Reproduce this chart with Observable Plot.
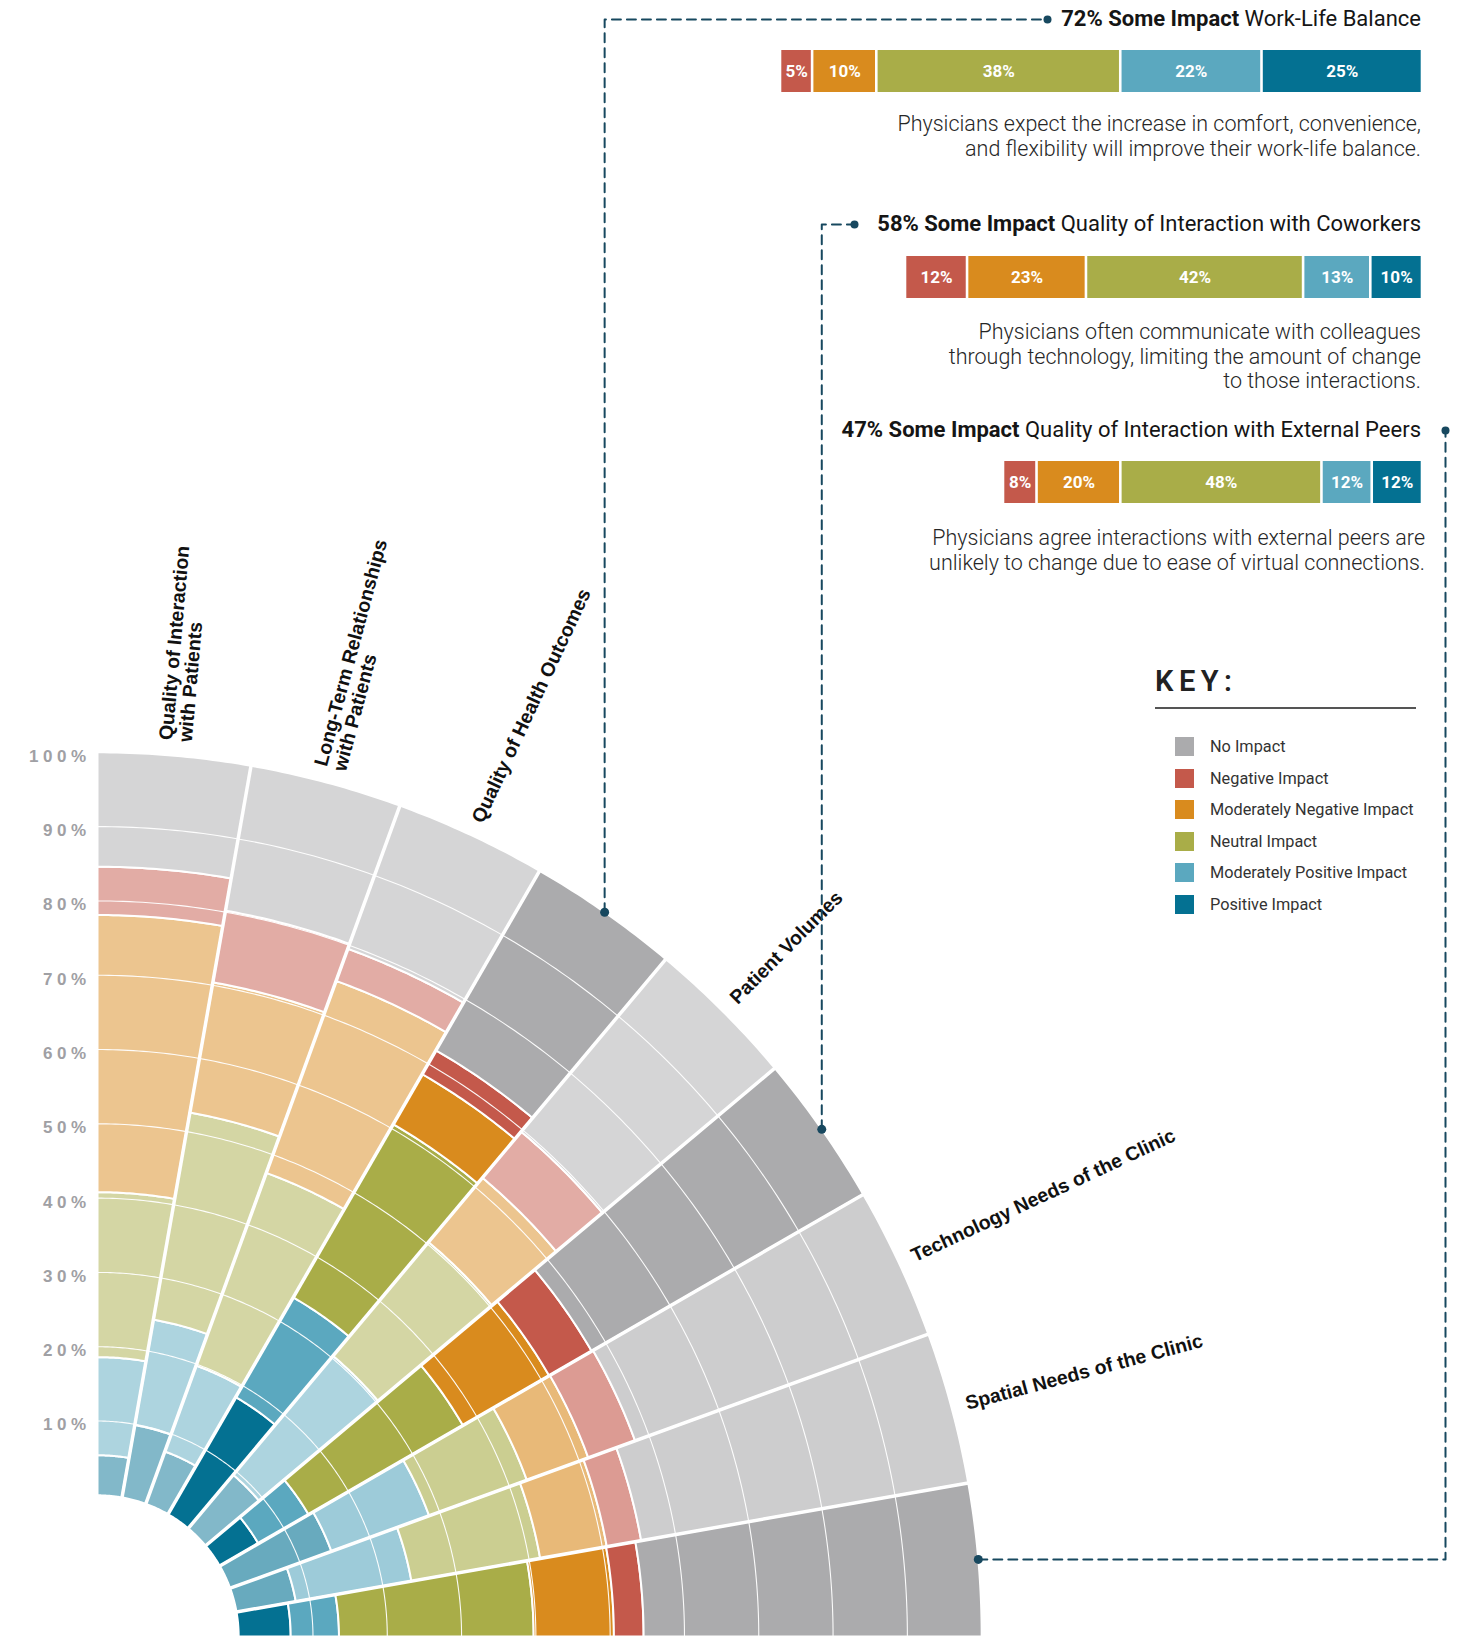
<!DOCTYPE html>
<html lang="en">
<head>
<meta charset="utf-8">
<title>Expected impact of virtual care on physicians</title>
<script src="https://cdn.jsdelivr.net/npm/d3@7"></script>
<script src="https://cdn.jsdelivr.net/npm/@observablehq/plot@0.6"></script>
<style>
  html, body { margin: 0; padding: 0; background: #fff; }
  #page { position: relative; width: 1460px; height: 1636px; overflow: hidden; font-family: Roboto, "Open Sans", sans-serif; }
  #main { position: absolute; left: 0; top: 0; }
  .c-title, .c-bar, .c-desc { position: absolute; text-align: right; }
  .c-title { font-size: 22px; line-height: 26px; color: #151515; white-space: nowrap; }
  .c-title b { font-weight: 700; }
  .c-desc { font-size: 21.5px; line-height: 24.5px; color: #262626; font-weight: 300; white-space: pre-line; }
  .c-bar svg { display: block; }
  #key { position: absolute; left: 1155px; top: 664px; width: 262px; }
  #key .k-title { font-family: Roboto, sans-serif; font-size: 29px; font-weight: 600; letter-spacing: 5.5px; color: #222; line-height: 34px; }
  #key .k-rule { margin-top: 9px; height: 2px; background: #555; width: 261px; }
  #key .k-item { position: absolute; left: 20px; height: 20px; font-size: 16.3px; color: #333; line-height: 20px; white-space: nowrap; }
  #key .k-item span.sw { position: absolute; left: 0; top: 0; width: 19px; height: 19px; }
  #key .k-item span.lb { position: absolute; left: 35px; top: 0; }
</style>
</head>
<body>
<div id="page">
  <div id="main"></div>
  <div id="callouts"></div>
  <div id="key"></div>
</div>
<script>
// ---------------- DATA ----------------
const categories = [
  "Quality of Interaction with Patients",
  "Long-Term Relationships with Patients",
  "Quality of Health Outcomes",
  "Work-Life Balance",
  "Patient Volumes",
  "Quality of Interaction with Coworkers",
  "Technology Needs of the Clinic",
  "Spatial Needs of the Clinic",
  "Quality of Interaction with External Peers"
];
const wedgeLabels = [
  "Quality of Interaction\nwith Patients",
  "Long-Term Relationships\nwith Patients",
  "Quality of Health Outcomes",
  "",
  "Patient Volumes",
  "",
  "Technology Needs of the Clinic",
  "Spatial Needs of the Clinic",
  ""
];
const seriesNames = ["No Impact", "Negative Impact", "Moderately Negative Impact", "Neutral Impact", "Moderately Positive Impact", "Positive Impact"];

// radial stacks (share of respondents, %), stacked from the centre outward
const positive    = [5.4, 9.9, 7.5, 18.2, 9.4, 6.0, 14.5, 8.1, 7.0];
const modPositive = [13.2, 14.4, 12.3, 15.5, 20.9, 7.8, 14.0, 15.8, 6.5];
const neutral     = [22.2, 28.3, 27.6, 26.9, 20.0, 24.0, 14.0, 17.6, 26.2];
const modNegative = [37.3, 17.8, 27.5, 7.8, 11.3, 13.4, 8.8, 9.1, 10.8];
const negative    = [6.5, 9.8, 4.6, 3.7, 8.1, 6.6, 6.7, 4.7, 4.0];
const noImpact    = [15.4, 19.8, 20.5, 27.9, 30.3, 42.2, 42.0, 44.7, 45.5];
const radialTicks = [10, 20, 30, 40, 50, 60, 70, 80, 90, 100];

// callouts
const calloutTopics = ["Work-Life Balance", "Quality of Interaction with Coworkers", "Quality of Interaction with External Peers"];
const calloutImpact = [72, 58, 47];
const calloutSeries = ["Negative Impact", "Moderately Negative Impact", "Neutral Impact", "Moderately Positive Impact", "Positive Impact"];
const workLifeShares = [5, 10, 38, 22, 25];
const coworkerShares = [12, 23, 42, 13, 10];
const externalPeerShares = [8, 20, 48, 12, 12];
const calloutNotes = [
  "Physicians expect the increase in comfort, convenience,\nand flexibility will improve their work-life balance.",
  "Physicians often communicate with colleagues\nthrough technology, limiting the amount of change\nto those interactions.",
  "Physicians agree interactions with external peers are\nunlikely to change due to ease of virtual connections."
];

// ---------------- STYLE / LAYOUT ----------------
const seriesColor = {
  "No Impact": "#ababad",
  "Negative Impact": "#c4594b",
  "Moderately Negative Impact": "#d98b1e",
  "Neutral Impact": "#a9ad48",
  "Moderately Positive Impact": "#5ba8bf",
  "Positive Impact": "#047192"
};
const lightOpacity = {"Technology Needs of the Clinic": 0.6, "Spatial Needs of the Clinic": 0.6};
const W = 1460, H = 1636;
const CX = 97, CY = 1636, UNIT = 7.43, HOLE = 19;   // centre, px per %, inner hole (in % units)
const ux = px => (px - CX) / UNIT;
const uy = py => (CY - py) / UNIT;
const STEP = 90 / categories.length;
const rad = d => d * Math.PI / 180;
const polar = (angle, v) => [(HOLE + v) * Math.sin(rad(angle)), (HOLE + v) * Math.cos(rad(angle))];
const INK = "#17485f";

// stacked segments -> polygons
const stackOrder = [
  ["Positive Impact", positive],
  ["Moderately Positive Impact", modPositive],
  ["Neutral Impact", neutral],
  ["Moderately Negative Impact", modNegative],
  ["Negative Impact", negative],
  ["No Impact", noImpact]
];
const segPts = [];
const N = 24;
categories.forEach((cat, i) => {
  const highlighted = calloutTopics.some(t => cat.endsWith(t));
  const alpha = highlighted ? 1 : (lightOpacity[cat] ?? 0.5);
  let v0 = 0;
  stackOrder.forEach(([name, arr], s) => {
    const v1 = v0 + arr[i];
    const a0 = i * STEP, a1 = (i + 1) * STEP;
    const fill = d3.interpolateRgb("#ffffff", seriesColor[name])(alpha);
    const id = `${i}-${s}`;
    const pts = [];
    for (let k = 0; k <= N; k++) pts.push(polar(a0 + (a1 - a0) * k / N, v1));
    for (let k = N; k >= 0; k--) pts.push(polar(a0 + (a1 - a0) * k / N, v0));
    pts.push(pts[0]);
    pts.forEach(([x, y]) => segPts.push({x, y, id, fill, series: name, category: cat}));
    v0 = v1;
  });
});

// gridlines at each tick except 100
const gridPts = [];
radialTicks.filter(t => t < 100).forEach(t => {
  for (let k = 0; k <= 180; k++) {
    const [x, y] = polar(90 * k / 180, t);
    gridPts.push({x, y, t});
  }
});

// wedge separators
const seps = d3.range(1, categories.length).map(i => {
  const [x1, y1] = polar(i * STEP, 0);
  const [x2, y2] = polar(i * STEP, 100);
  return {x1, y1, x2, y2};
});

// category labels
const labelData = categories.map((c, i) => {
  const mid = (i + 0.5) * STEP;
  const [x, y] = polar(mid, 102);
  return {x, y, text: wedgeLabels[i], rotate: mid - 90};
}).filter(d => d.text);

// connectors from wedges to callouts
const wedgeIndex = t => categories.findIndex(c => c.endsWith(t));
const wedgeDots = calloutTopics.map(t => {
  const [x, y] = polar((wedgeIndex(t) + 0.5) * STEP, 100);
  return {x, y};
});
const connectors = [
  {id: 0, pts: [[wedgeDots[0].x, wedgeDots[0].y], [wedgeDots[0].x, uy(19)], [ux(1047), uy(19)]]},
  {id: 1, pts: [[wedgeDots[1].x, wedgeDots[1].y], [wedgeDots[1].x, uy(224)], [ux(854), uy(224)]]},
  {id: 2, pts: [[wedgeDots[2].x, wedgeDots[2].y], [ux(1445), wedgeDots[2].y], [ux(1445), uy(430)]]}
];
const connPts = connectors.flatMap(c => c.pts.map(([x, y]) => ({x, y, id: c.id})));
const endDots = connectors.map(c => ({x: c.pts[2][0], y: c.pts[2][1]}));

const main = Plot.plot({
  width: W, height: H,
  marginTop: 0, marginRight: 0, marginBottom: 0, marginLeft: 0,
  x: {domain: [ux(0), ux(W)], axis: null},
  y: {domain: [uy(H), uy(0)], axis: null},
  color: {type: "identity"},
  style: {background: "transparent", fontFamily: "Roboto, sans-serif", overflow: "visible"},
  marks: [
    Plot.line(segPts, {x: "x", y: "y", z: "id", fill: "fill", stroke: "white", strokeWidth: 2, strokeLinejoin: "round", curve: "linear"}),
    Plot.line(gridPts, {x: "x", y: "y", z: "t", stroke: "white", strokeWidth: 1.1, strokeOpacity: 0.95}),
    Plot.link(seps, {x1: "x1", y1: "y1", x2: "x2", y2: "y2", stroke: "white", strokeWidth: 3.5}),
    Plot.text(radialTicks, {x: () => ux(90), y: d => HOLE + d, dy: 4, text: d => `${d}%`, textAnchor: "end",
      fill: "#a0a0a4", fontSize: 17, fontWeight: 700, fontFamily: "Liberation Sans, Arial, sans-serif"}),
    Plot.text(labelData, {x: "x", y: "y", text: "text", rotate: "rotate", textAnchor: "start", lineAnchor: "middle",
      fill: "#111", fontSize: 19.5, fontWeight: 700, fontFamily: "Liberation Sans, Arial, sans-serif", lineHeight: 1.0}),
    Plot.line(connPts, {x: "x", y: "y", z: "id", stroke: INK, strokeWidth: 2, strokeDasharray: "9,6"}),
    Plot.dot(wedgeDots, {x: "x", y: "y", r: 4.5, fill: INK}),
    Plot.dot(endDots, {x: "x", y: "y", r: 4, fill: INK})
  ]
});
// widen the tracking of the radial tick labels
d3.select(main).selectAll("text")
  .filter(function () { return /^\d+%$/.test(this.textContent.trim()); })
  .attr("letter-spacing", "4.5px")
  .style("letter-spacing", "4.5px");
document.getElementById("main").appendChild(main);

// ---------------- CALLOUTS ----------------
const PX_PER_PCT = 8.913;
const RIGHT = 1421;
const titleTop = [6, 211, 417];
const barTop = [50, 256, 461];
const descTop = [112, 320, 526];
const descRight = [1421, 1421, 1425];
const shareSets = [workLifeShares, coworkerShares, externalPeerShares];
const co = document.getElementById("callouts");

calloutTopics.forEach((topic, j) => {
  const t = document.createElement("div");
  t.className = "c-title";
  t.style.top = titleTop[j] + "px";
  t.style.right = (W - RIGHT) + "px";
  t.innerHTML = `<b>${calloutImpact[j]}% Some Impact</b> ${topic}`;
  co.appendChild(t);

  const data = calloutSeries.map((s, k) => ({series: s, value: shareSets[j][k]}));
  const bar = Plot.plot({
    width: Math.round(calloutImpact[j] * PX_PER_PCT), height: 42,
    marginTop: 0, marginRight: 0, marginBottom: 0, marginLeft: 0,
    x: {domain: [0, 100], axis: null},
    color: {domain: calloutSeries, range: calloutSeries.map(s => seriesColor[s])},
    style: {background: "transparent", overflow: "visible"},
    marks: [
      Plot.barX(data, Plot.stackX({x: "value", fill: "series", insetLeft: 1.3, insetRight: 1.3, order: null})),
      Plot.text(data, Plot.stackX({x: "value", text: d => `${d.value}%`, fill: "white", fontSize: 17, fontWeight: 700,
        fontFamily: "Roboto, sans-serif", order: null}))
    ]
  });
  const b = document.createElement("div");
  b.className = "c-bar";
  b.style.top = barTop[j] + "px";
  b.style.right = (W - RIGHT - 1) + "px";
  b.appendChild(bar);
  co.appendChild(b);

  const d = document.createElement("div");
  d.className = "c-desc";
  d.style.top = descTop[j] + "px";
  d.style.right = (W - descRight[j]) + "px";
  d.textContent = calloutNotes[j];
  co.appendChild(d);
});

// ---------------- KEY ----------------
const key = document.getElementById("key");
key.innerHTML = `<div class="k-title">KEY:</div><div class="k-rule"></div>`;
seriesNames.forEach((s, k) => {
  const it = document.createElement("div");
  it.className = "k-item";
  it.style.top = (73 + k * 31.5) + "px";
  it.innerHTML = `<span class="sw" style="background:${seriesColor[s]}"></span><span class="lb">${s}</span>`;
  key.appendChild(it);
});
</script>
</body>
</html>
